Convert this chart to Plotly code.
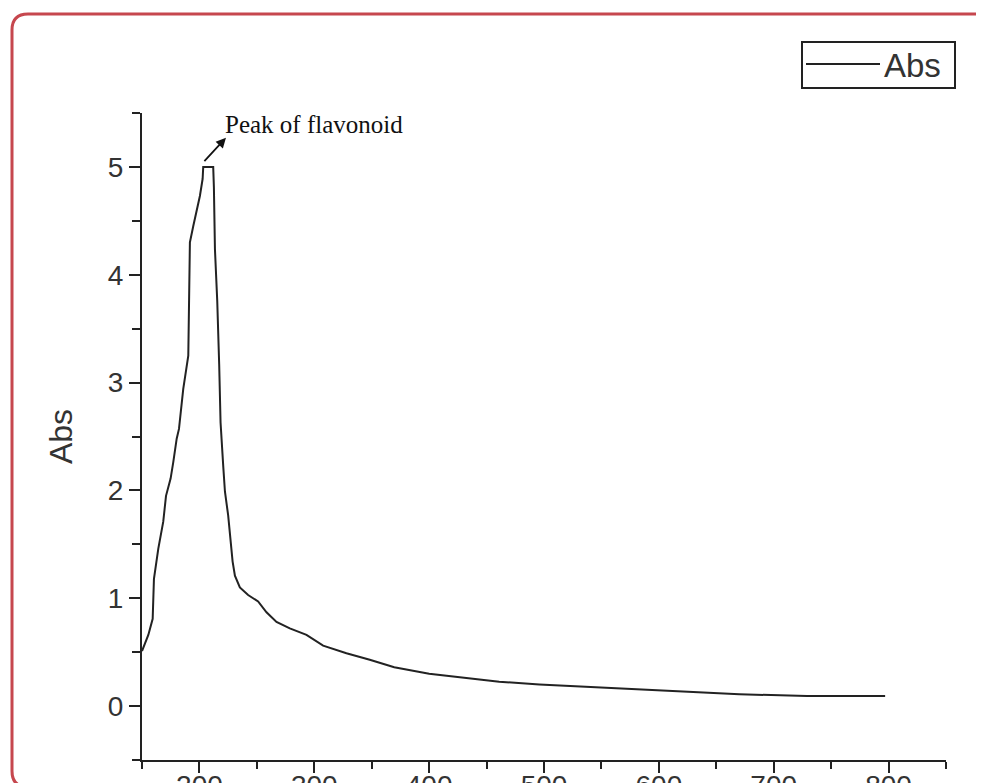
import plotly.graph_objects as go

# ---- data ----
wavelength = [150, 155.5, 159.3, 160.4, 164.2, 168.5, 170.9, 174.9, 177.2, 180.2, 182.2, 185.9,
              190.3, 191.7, 194.6, 200.4, 202.8, 203.3, 212.0, 212.6, 213.5, 215.5, 217.2,
              218.4, 220.7, 222.2, 225.0, 226.5, 228.9, 230.9, 235.2, 242.4, 251.1, 258.4,
              267.1, 278.7, 293.2, 307.7, 328.0, 348.3, 369.6, 400.0, 431.0, 461.0, 496.0,
              535.0, 570.0, 605.0, 635.0, 670.0, 729.0, 797.0]
absorbance = [0.51, 0.66, 0.81, 1.18, 1.46, 1.71, 1.95, 2.11, 2.26, 2.48, 2.57, 2.94,
              3.25, 4.30, 4.45, 4.73, 4.89, 5.00, 5.00, 4.81, 4.24, 3.76, 3.17,
              2.63, 2.23, 1.99, 1.77, 1.58, 1.34, 1.21, 1.10, 1.03, 0.97, 0.87,
              0.78, 0.72, 0.66, 0.56, 0.49, 0.43, 0.36, 0.30, 0.26, 0.226, 0.20,
              0.18, 0.164, 0.148, 0.133, 0.11, 0.093, 0.093]
x_ticks = [200, 300, 400, 500, 600, 700, 800]
y_ticks = [0, 1, 2, 3, 4, 5]
series_name = "Abs"
peak_label = "Peak of flavonoid"

# page places the figure 8px from the top-left (body margin)
OFF = 8
W, H = 984 - OFF, 783 - OFF
# plot area in screen pixels
SX0, SX1, SY0, SY1 = 142, 946, 113, 760
ML, MT = SX0 - OFF, SY0 - OFF
MR, MB = W - (SX1 - OFF), H - (SY1 - OFF)
PW, PH = SX1 - SX0, SY1 - SY0


def px(xp):
    return (xp - SX0) / PW


def py(yp):
    return (SY1 - yp) / PH


fig = go.Figure()
fig.add_trace(go.Scatter(x=wavelength, y=absorbance, mode="lines", name=series_name,
                         line=dict(color="#222222", width=2), showlegend=False))

axis_common = dict(showgrid=False, zeroline=False, showline=True, linecolor="#222222",
                   linewidth=2, ticks="outside", tickwidth=2, tickcolor="#222222",
                   ticklen=11, mirror=False, automargin=False)

fig.update_xaxes(range=[150, 850], tickvals=x_ticks, ticktext=[str(v) for v in x_ticks],
                 tickfont=dict(family="Liberation Sans, Arial", size=28, color="#333333"),
                 ticklabelstandoff=-12,
                 minor=dict(dtick=50, tick0=150, ticks="outside", ticklen=7, tickwidth=2,
                            tickcolor="#222222"),
                 **axis_common)
fig.update_yaxes(range=[-0.5, 5.5], tickvals=y_ticks, ticktext=[str(v) for v in y_ticks],
                 tickfont=dict(family="Liberation Sans, Arial", size=28, color="#333333"),
                 minor=dict(dtick=0.5, tick0=-0.5, ticks="outside", ticklen=8, tickwidth=2,
                            tickcolor="#222222"),
                 title=dict(text=series_name, standoff=26,
                            font=dict(family="Liberation Sans, Arial", size=32, color="#333333")),
                 **axis_common)

# peak annotation text and arrow
fig.add_annotation(x=223.1, y=5.39, xref="x", yref="y", text=peak_label, showarrow=False,
                   xanchor="left", yanchor="middle", xshift=-3,
                   font=dict(family="Liberation Serif, Times New Roman", size=25, color="#111111"))
fig.add_annotation(x=223.1, y=5.27, xref="x", yref="y", ax=203.1, ay=5.04, axref="x", ayref="y",
                   text="", showarrow=True, arrowhead=2, arrowsize=1.1, arrowwidth=1.8,
                   arrowcolor="#111111")

# legend box drawn manually
lx0, lx1, ly0, ly1 = 802, 955, 42, 88
fig.add_shape(type="rect", xref="paper", yref="paper", x0=px(lx0), x1=px(lx1), y0=py(ly1), y1=py(ly0),
              line=dict(color="#222222", width=2), fillcolor="white")
fig.add_shape(type="line", xref="paper", yref="paper", x0=px(806), x1=px(880), y0=py(64), y1=py(64),
              line=dict(color="#222222", width=2))
fig.add_annotation(xref="paper", yref="paper", x=px(882), y=py(65), text=series_name, showarrow=False,
                   xanchor="left", yanchor="middle",
                   font=dict(family="Liberation Sans, Arial", size=33, color="#333333"))

# red rounded frame
bl, bt, br, bb, r = 12, 14, 1000, 787, 16
path = (f"M {px(bl)},{py(bb - r)} L {px(bl)},{py(bt + r)} Q {px(bl)},{py(bt)} {px(bl + r)},{py(bt)} "
        f"L {px(br - r)},{py(bt)} Q {px(br)},{py(bt)} {px(br)},{py(bt + r)} "
        f"L {px(br)},{py(bb - r)} Q {px(br)},{py(bb)} {px(br - r)},{py(bb)} "
        f"L {px(bl + r)},{py(bb)} Q {px(bl)},{py(bb)} {px(bl)},{py(bb - r)} Z")
fig.add_shape(type="path", xref="paper", yref="paper", path=path,
              line=dict(color="#c6474e", width=3), layer="above")

fig.update_layout(width=W, height=H, margin=dict(l=ML, r=MR, t=MT, b=MB),
                  paper_bgcolor="white", plot_bgcolor="white", showlegend=False)

fig.write_html("out.html")
